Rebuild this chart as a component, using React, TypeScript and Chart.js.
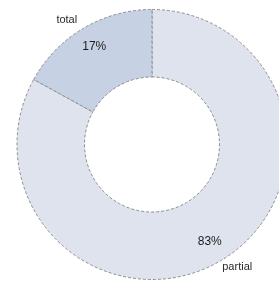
import React, { useEffect, useRef } from "react";
import { Chart, registerables } from "chart.js";

Chart.register(...registerables);

const categories = ["partial", "total"];
const values = [83, 17];
const percentLabels = ["83%", "17%"];
const sliceColors = ["#dfe3ee", "#c6d1e4"];

const labelPlugin = {
  id: "sliceLabels",
  afterDatasetsDraw(chart: any) {
    const ctx = chart.ctx;
    const meta = chart.getDatasetMeta(0);
    ctx.save();
    ctx.textAlign = "center";
    ctx.textBaseline = "middle";
    meta.data.forEach((arc: any, i: number) => {
      const p = arc.getProps(["x", "y", "startAngle", "endAngle", "innerRadius", "outerRadius"], true);
      const mid = (p.startAngle + p.endAngle) / 2;
      const rIn = p.innerRadius + 0.68 * (p.outerRadius - p.innerRadius);
      ctx.fillStyle = "#1c1c1c";
      ctx.font = "12px 'Liberation Sans', Arial, sans-serif";
      ctx.fillText(percentLabels[i], p.x + Math.cos(mid) * rIn, p.y + Math.sin(mid) * rIn);
      ctx.fillStyle = "#2a2a2a";
      ctx.font = "11px 'Liberation Sans', Arial, sans-serif";
      const rx = p.outerRadius * 1.24;
      const ry = p.outerRadius * 1.065;
      ctx.fillText(categories[i], p.x + Math.cos(mid) * rx, p.y + Math.sin(mid) * ry - 1);
    });
    ctx.restore();
  },
};

export default function App() {
  const ref = useRef<HTMLCanvasElement>(null);
  useEffect(() => {
    if (!ref.current) return;
    const chart = new Chart(ref.current, {
      type: "doughnut",
      data: {
        labels: categories,
        datasets: [
          {
            data: values,
            backgroundColor: sliceColors,
            borderColor: "#8c8c8c",
            borderWidth: 1,
            borderDash: [3, 2],
          } as any,
        ],
      },
      options: {
        animation: false,
        responsive: true,
        maintainAspectRatio: false,
        cutout: "50%",
        layout: { padding: 9 },
        plugins: {
          legend: { display: false },
          tooltip: { enabled: false },
        },
      },
      plugins: [labelPlugin],
    });
    return () => chart.destroy();
  }, []);
  return (
    <div style={{ position: "fixed", left: 0, top: 0, width: 279, height: 284, overflow: "hidden", background: "#fff" }}>
      <div style={{ position: "absolute", left: 0, top: 0, width: 304, height: 289 }}>
        <canvas ref={ref} />
      </div>
    </div>
  );
}
